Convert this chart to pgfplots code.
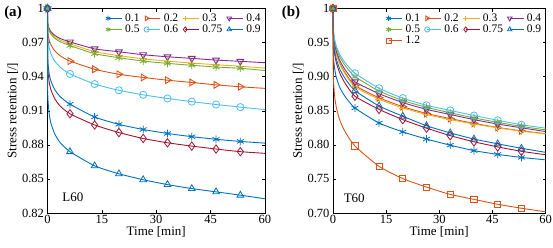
\documentclass[border=0pt]{standalone}
\usepackage{fontspec}
\setmainfont{Liberation Serif}
\usepackage{pgfplots}
\pgfplotsset{compat=1.18}
\usepackage{pgfplotstable}

\definecolor{c1}{rgb}{0,0.447,0.741}
\definecolor{c2}{rgb}{0.85,0.325,0.098}
\definecolor{c3}{rgb}{0.929,0.694,0.125}
\definecolor{c4}{rgb}{0.494,0.184,0.556}
\definecolor{c5}{rgb}{0.466,0.674,0.188}
\definecolor{c6}{rgb}{0.301,0.745,0.933}
\definecolor{c7}{rgb}{0.635,0.078,0.184}

\pgfplotstableread{
t    a01    a02    a03    a04    a05    a06    a075   a09
0    1      1      1      1      1      1      1      1
0.05 0.9589 0.9822 0.9881 0.9887 0.9875 0.9779 0.9525 0.9291
0.2  0.9495 0.9765 0.9843 0.9851 0.9835 0.9708 0.9424 0.9162
0.5  0.9420 0.9718 0.9812 0.9821 0.9802 0.9650 0.9346 0.9065
1    0.9357 0.9676 0.9783 0.9794 0.9772 0.9597 0.9279 0.8983
2    0.9286 0.9628 0.9751 0.9764 0.9738 0.9537 0.9206 0.8896
3.5  0.9224 0.9584 0.9722 0.9736 0.9707 0.9483 0.9141 0.8819
6.2  0.9158 0.9537 0.9690 0.9706 0.9674 0.9424 0.9073 0.8740
13   0.9045 0.9465 0.9620 0.9645 0.9602 0.9335 0.8975 0.8615
19.7 0.8980 0.9421 0.9585 0.9619 0.9567 0.9280 0.8908 0.8545
26.4 0.8935 0.9393 0.9557 0.9593 0.9537 0.9240 0.8856 0.8493
33.1 0.8900 0.9369 0.9537 0.9575 0.9517 0.9208 0.8818 0.8450
39.8 0.8872 0.9349 0.9520 0.9561 0.9500 0.9180 0.8789 0.8415
46.5 0.8849 0.9328 0.9505 0.9546 0.9485 0.9155 0.8763 0.8386
53.2 0.8830 0.9311 0.9492 0.9535 0.9474 0.9132 0.8740 0.8357
60   0.8815 0.9297 0.9475 0.9523 0.9454 0.9110 0.8725 0.8325
}\tabL

\pgfplotstableread{
t    b01    b02    b03    b04    b05    b06    b075   b09    b12
0    1      1      1      1      1      1      1      1      1
0.05 0.9420 0.9711 0.9706 0.9725 0.9744 0.9757 0.9619 0.9643 0.9119
0.2  0.9247 0.9574 0.9566 0.9595 0.9623 0.9642 0.9461 0.9495 0.8885
0.5  0.9104 0.9449 0.9439 0.9475 0.9512 0.9536 0.9322 0.9365 0.8695
1    0.8977 0.9331 0.9319 0.9364 0.9408 0.9438 0.9194 0.9246 0.8534
2    0.8833 0.9188 0.9173 0.9227 0.9281 0.9317 0.9041 0.9102 0.8350
3.5  0.8702 0.9050 0.9033 0.9096 0.9159 0.9201 0.8897 0.8967 0.8185
6.2  0.8540 0.8870 0.8850 0.8925 0.9000 0.9050 0.8713 0.8795 0.7983
13   0.8320 0.8690 0.8670 0.8750 0.8790 0.8830 0.8520 0.8570 0.7684
19.7 0.8190 0.8560 0.8540 0.8620 0.8650 0.8685 0.8370 0.8420 0.7505
26.4 0.8085 0.8460 0.8445 0.8520 0.8550 0.8580 0.8245 0.8280 0.7380
33.1 0.7995 0.8385 0.8370 0.8445 0.8470 0.8505 0.8135 0.8175 0.7273
39.8 0.7915 0.8315 0.8305 0.8370 0.8395 0.8430 0.8045 0.8085 0.7200
46.5 0.7860 0.8255 0.8250 0.8305 0.8330 0.8360 0.7970 0.8015 0.7128
53.2 0.7815 0.8205 0.8200 0.8250 0.8270 0.8295 0.7905 0.7950 0.7070
60   0.7780 0.8165 0.8160 0.8195 0.8220 0.8245 0.7855 0.7890 0.7018
}\tabR

\pgfplotsset{
  panel/.style={
    scale only axis, width=217.5pt, height=204.5pt,
    xmin=0, xmax=60, xtick={0,15,30,45,60},
    tick align=inside, tick pos=both, major tick length=3pt,
    axis line style={line width=0.5pt}, every tick/.style={black, line width=0.5pt},
    /pgf/number format/assume math mode=true,
    ticklabel style={font=\fontsize{12.5}{12.5}\selectfont},
    xticklabel style={inner sep=2pt},
    label style={font=\fontsize{13}{13}\selectfont},
    xlabel={Time [min]}, ylabel={Stress retention [/]},
    xlabel style={inner sep=1pt},
    ylabel style={yshift=-3pt},
    clip=false,
    legend columns=4,
    legend cell align=left,
    legend image code/.code={\draw[mark repeat=2,mark phase=2] plot coordinates {(0cm,0cm) (0.24cm,0cm) (0.48cm,0cm)};},
    legend image post style={mark size=2.6pt},
    legend style={at={(0.995,0.99)}, anchor=north east, draw=none, fill=none,
      font=\fontsize{11.5}{11.5}\selectfont, inner sep=1pt,
      /tikz/every odd column/.append style={column sep=1pt},
      /tikz/every even column/.append style={column sep=2.5pt},
      row sep=-2pt},
  },
  ser/.style={line width=0.9pt, smooth, tension=0.35, mark size=3.9pt,
    mark indices={1,8,9,10,11,12,13,14,15}, mark options={solid, line width=0.8pt}},
}

\begin{document}
\begin{tikzpicture}[x=1pt,y=1pt]
\useasboundingbox (0,0) rectangle (553,247);

\begin{axis}[panel, at={(47.5pt,34pt)}, anchor=south west,
  ymin=0.82, ymax=1, ytick={0.82,0.85,0.88,0.91,0.94,0.97,1},
  yticklabels={0.82,0.85,0.88,0.91,0.94,0.97,1}]
\addplot[ser, c1, mark=asterisk] table[x=t,y=a01]{\tabL};
\addlegendentry{0.1}
\addplot[ser, c2, mark=triangle, mark options={rotate=-90}] table[x=t,y=a02]{\tabL};
\addlegendentry{0.2}
\addplot[ser, c3, mark=+] table[x=t,y=a03]{\tabL};
\addlegendentry{0.3}
\addplot[ser, c4, mark=triangle, mark options={rotate=180}] table[x=t,y=a04]{\tabL};
\addlegendentry{0.4}
\addplot[ser, c5, mark=asterisk] table[x=t,y=a05]{\tabL};
\addlegendentry{0.5}
\addplot[ser, c6, mark=o, mark size=3.6pt] table[x=t,y=a06]{\tabL};
\addlegendentry{0.6}
\addplot[ser, c7, mark=diamond, mark size=4.2pt] table[x=t,y=a075]{\tabL};
\addlegendentry{0.75}
\addplot[ser, c1, mark=triangle] table[x=t,y=a09]{\tabL};
\addlegendentry{0.9}
\node[font=\fontsize{13}{13}\selectfont] at (axis cs:7,0.834) {L60};
\end{axis}

\begin{axis}[panel, at={(333pt,34pt)}, anchor=south west, width=212.5pt,
  ymin=0.70, ymax=1, ytick={0.70,0.75,0.80,0.85,0.90,0.95,1},
  yticklabels={0.70,0.75,0.80,0.85,0.90,0.95,1}]
\addplot[ser, c1, mark=asterisk] table[x=t,y=b01]{\tabR};
\addlegendentry{0.1}
\addplot[ser, c2, mark=triangle, mark options={rotate=-90}] table[x=t,y=b02]{\tabR};
\addlegendentry{0.2}
\addplot[ser, c3, mark=+] table[x=t,y=b03]{\tabR};
\addlegendentry{0.3}
\addplot[ser, c4, mark=triangle, mark options={rotate=180}] table[x=t,y=b04]{\tabR};
\addlegendentry{0.4}
\addplot[ser, c5, mark=asterisk] table[x=t,y=b05]{\tabR};
\addlegendentry{0.5}
\addplot[ser, c6, mark=o, mark size=3.6pt] table[x=t,y=b06]{\tabR};
\addlegendentry{0.6}
\addplot[ser, c7, mark=diamond, mark size=4.2pt] table[x=t,y=b075]{\tabR};
\addlegendentry{0.75}
\addplot[ser, c1, mark=triangle] table[x=t,y=b09]{\tabR};
\addlegendentry{0.9}
\addplot[ser, c2, mark=square, mark size=3.1pt] table[x=t,y=b12]{\tabR};
\addlegendentry{1.2}
\node[font=\fontsize{13}{13}\selectfont] at (axis cs:6,0.721) {T60};
\end{axis}

\node[font=\bfseries\fontsize{15}{15}\selectfont] at (13,234) {(a)};
\node[font=\bfseries\fontsize{15}{15}\selectfont] at (291,234) {(b)};
\end{tikzpicture}
\end{document}
